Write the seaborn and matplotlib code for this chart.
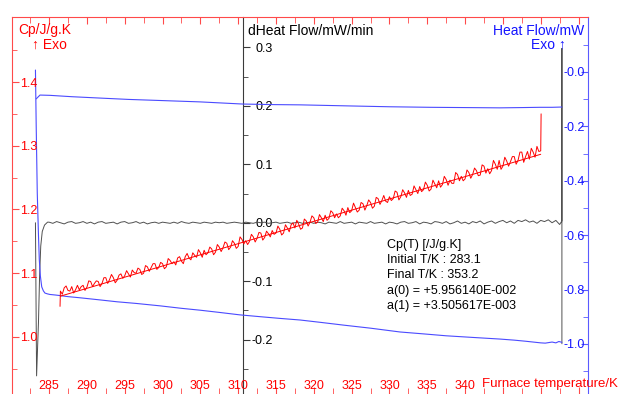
import matplotlib
matplotlib.use("Agg")
import matplotlib.pyplot as plt
import numpy as np
import seaborn as sns
from matplotlib.ticker import FixedLocator, MultipleLocator

W, H = 621, 394

# x axis: furnace temperature / K
x_ticks = [285, 290, 295, 300, 305, 310, 315, 320, 325, 330, 335, 340, 345, 350, 355]
x_tick_labels = ["285", "290", "295", "300", "305", "310", "315", "320",
                 "325", "330", "335", "340", "", "", ""]

# Cp axis (left, red)
cp_ticks = [1.0, 1.1, 1.2, 1.3, 1.4]
cp_tick_labels = ["1.0", "1.1", "1.2", "1.3", "1.4"]
cp_minor = [0.95, 1.05, 1.15, 1.25, 1.35, 1.45]

# dHeat flow axis (middle, black)
dhf_ticks = [-0.2, -0.1, 0.0, 0.1, 0.2, 0.3]
dhf_tick_labels = ["-0.2", "-0.1", "0.0", "0.1", "0.2", "0.3"]
dhf_minor = [-0.25, -0.15, -0.05, 0.05, 0.15, 0.25]

# heat flow axis (right, blue)
hf_ticks = [0.0, -0.2, -0.4, -0.6, -0.8, -1.0]
hf_tick_labels = ["-0.0", "-0.2", "-0.4", "-0.6", "-0.8", "-1.0"]
hf_minor = [0.1, -0.1, -0.3, -0.5, -0.7, -0.9, -1.1]

# measured Cp (red, noisy), every 0.25 K
cp_temp = [286.45] + list(np.arange(286.5, 350.01, 0.25)) + [350.05]
cp_vals = [
    1.048,
    1.072, 1.067, 1.077, 1.080, 1.073, 1.072, 1.079, 1.069, 1.074, 1.081,
    1.074, 1.079, 1.081, 1.073, 1.078, 1.088, 1.087, 1.079, 1.084, 1.088,
    1.087, 1.079, 1.084, 1.093, 1.093, 1.084, 1.090, 1.098, 1.093, 1.085,
    1.089, 1.097, 1.099, 1.092, 1.096, 1.104, 1.099, 1.094, 1.105, 1.101,
    1.100, 1.108, 1.106, 1.098, 1.100, 1.112, 1.110, 1.103, 1.109, 1.115,
    1.115, 1.106, 1.109, 1.117, 1.115, 1.107, 1.110, 1.123, 1.120, 1.115,
    1.118, 1.113, 1.124, 1.126, 1.119, 1.115, 1.126, 1.131, 1.124, 1.121,
    1.132, 1.128, 1.125, 1.137, 1.132, 1.125, 1.136, 1.129, 1.132, 1.141,
    1.138, 1.129, 1.133, 1.145, 1.141, 1.134, 1.140, 1.149, 1.147, 1.137,
    1.141, 1.151, 1.147, 1.139, 1.142, 1.157, 1.153, 1.146, 1.151, 1.145,
    1.150, 1.161, 1.157, 1.149, 1.155, 1.164, 1.163, 1.152, 1.156, 1.166,
    1.162, 1.157, 1.167, 1.161, 1.163, 1.174, 1.169, 1.160, 1.163, 1.176,
    1.171, 1.165, 1.176, 1.179, 1.171, 1.183, 1.177, 1.169, 1.171, 1.185,
    1.182, 1.174, 1.180, 1.190, 1.187, 1.178, 1.180, 1.192, 1.187, 1.181,
    1.191, 1.183, 1.186, 1.198, 1.195, 1.187, 1.193, 1.187, 1.190, 1.202,
    1.198, 1.191, 1.203, 1.195, 1.198, 1.210, 1.203, 1.196, 1.199, 1.211,
    1.209, 1.199, 1.206, 1.215, 1.211, 1.202, 1.205, 1.219, 1.217, 1.208,
    1.214, 1.222, 1.213, 1.211, 1.220, 1.214, 1.217, 1.229, 1.227, 1.215,
    1.220, 1.231, 1.226, 1.219, 1.230, 1.222, 1.224, 1.237, 1.231, 1.225,
    1.236, 1.228, 1.231, 1.243, 1.238, 1.229, 1.232, 1.246, 1.240, 1.234,
    1.245, 1.235, 1.239, 1.252, 1.247, 1.238, 1.246, 1.241, 1.241, 1.258,
    1.255, 1.245, 1.252, 1.245, 1.248, 1.262, 1.258, 1.249, 1.255, 1.265,
    1.261, 1.253, 1.254, 1.270, 1.268, 1.257, 1.264, 1.256, 1.261, 1.277,
    1.271, 1.263, 1.277, 1.263, 1.268, 1.282, 1.276, 1.268, 1.275, 1.283,
    1.283, 1.271, 1.277, 1.290, 1.290, 1.274, 1.283, 1.291, 1.279, 1.296,
    1.290, 1.282, 1.299, 1.291, 1.292,
    1.350,
]

# linear Cp fit (thin red line)
fit_temp = [286.5, 350.0]
fit_cp = [1.064, 1.2866]

# dHeat flow (black)
dhf_temp = ([283.2, 283.35, 283.6, 283.75, 283.9, 284.1, 284.4, 284.8]
            + list(np.arange(285.0, 352.51, 0.5)) + [352.8, 352.8, 352.8])
dhf_vals = [
    0.0, -0.262, -0.17, -0.09, -0.04, -0.015, -0.004, 0.001,
    0.001, -0.001, 0.002, 0.000, -0.002, 0.001, 0.002, -0.001, 0.000, 0.002,
    -0.001, 0.001, -0.002, 0.001, 0.002, -0.001, 0.000, 0.001, -0.002, 0.001,
    0.002, -0.001, 0.000, 0.002, -0.001, 0.001, -0.002, 0.000, 0.001, -0.001,
    0.001, 0.000, -0.001, 0.001, -0.001, 0.002, 0.000, -0.001, 0.001, 0.000,
    -0.001, 0.001, 0.000, -0.001, 0.001, 0.000, 0.001, -0.001, 0.000, 0.001,
    0.000, -0.001, 0.001, 0.000, -0.001, 0.001, 0.000, 0.001, -0.001, 0.000,
    0.001, -0.001, 0.000, 0.001, -0.001, 0.000, 0.001, -0.001, 0.000, 0.001,
    -0.001, 0.001, 0.000, -0.002, 0.001, 0.000, -0.001, 0.002, -0.001, 0.000,
    0.001, -0.002, 0.001, 0.000, -0.001, 0.002, -0.001, 0.000, 0.001, -0.002,
    0.001, 0.000, -0.002, 0.001, 0.002, -0.001, 0.000, 0.002, -0.002, 0.001,
    0.000, -0.002, 0.002, 0.001, -0.001, 0.002, -0.002, 0.000, 0.003, -0.001,
    0.001, -0.002, 0.002, 0.000, 0.003, -0.002, 0.001, 0.003, -0.001, 0.002,
    0.004, 0.000, 0.003, -0.001, 0.004, 0.002, 0.005, 0.001, 0.003, -0.001,
    0.004, 0.002, 0.005, 0.000, 0.004, -0.003,
    0.003, 0.298, -0.207,
]

# heat flow, lower branch (blue)
hf_low_temp = [283.2, 283.3, 283.44, 283.6, 283.71, 283.85, 284.03, 284.25, 284.46,
               284.8, 285.1, 285.8, 286.4, 287.5, 289.0, 291.7, 294.0, 296.5, 299.7,
               302.5, 305.0, 307.5, 310.2, 313.0, 315.5, 318.2, 321.0, 324.0, 327.5,
               331.4, 334.5, 337.5, 341.0, 344.6, 346.5, 348.0, 349.0, 350.0, 350.6,
               351.5, 352.0, 352.4, 352.8]
hf_low = [0.007, -0.20, -0.445, -0.60, -0.691, -0.75, -0.790, -0.805, -0.813,
          -0.816, -0.818, -0.820, -0.822, -0.826, -0.830, -0.838, -0.845, -0.851, -0.860,
          -0.869, -0.876, -0.884, -0.893, -0.900, -0.906, -0.912, -0.921, -0.931, -0.942,
          -0.956, -0.963, -0.970, -0.976, -0.982, -0.986, -0.990, -0.993, -0.996, -0.997,
          -0.993, -0.996, -0.991, -0.994]

# heat flow, upper branch (blue)
hf_up_temp = [283.3, 283.8, 285.1, 288.0, 291.7, 295.5, 299.7, 304.9, 310.6, 314.5,
              318.2, 324.8, 330.0, 335.4, 340.0, 344.6, 347.5, 349.9, 351.5, 352.8]
hf_up = [-0.099, -0.085, -0.086, -0.091, -0.096, -0.101, -0.105, -0.110, -0.118, -0.120,
         -0.121, -0.125, -0.128, -0.130, -0.131, -0.132, -0.131, -0.130, -0.130, -0.129]

fit_text = ["Cp(T) [/J/g.K]", "Initial T/K : 283.1", "Final T/K : 353.2",
            "a(0) = +5.956140E-002", "a(1) = +3.505617E-003"]

RED = "#ff0000"
RED_SPINE = "#ff4a4a"
BLUE = "#1414ff"
BLUE_SPINE = "#5a5aff"
BLUE_LINE = "#4b4bff"
DARK = "#3a3a3a"
CURVE_GRAY = "#505050"


def fpos(x, y):
    return x / W, 1 - y / H


def main() -> None:
    sns.set_style("white")
    plt.rcParams["font.family"] = ["Liberation Sans", "DejaVu Sans"]
    plt.rcParams["axes.unicode_minus"] = False

    fig = plt.figure(figsize=(W / 100, H / 100), dpi=100)
    ax = fig.add_axes([12 / W, 0, 576 / W, 377 / H])
    ax2 = ax.twinx()
    ax3 = ax.twinx()

    sns.lineplot(x=hf_up_temp, y=hf_up, ax=ax3, color=BLUE_LINE, lw=0.8,
                 sort=False, estimator=None)
    sns.lineplot(x=hf_low_temp, y=hf_low, ax=ax3, color=BLUE_LINE, lw=0.8,
                 sort=False, estimator=None)
    sns.lineplot(x=dhf_temp, y=dhf_vals, ax=ax2, color=CURVE_GRAY, lw=0.7,
                 sort=False, estimator=None)
    sns.lineplot(x=cp_temp, y=cp_vals, ax=ax, color=RED, lw=0.7,
                 sort=False, estimator=None, zorder=5)
    sns.lineplot(x=fit_temp, y=fit_cp, ax=ax, color=RED, lw=0.7,
                 sort=False, estimator=None, zorder=5)
    ax.set_zorder(3)
    ax.patch.set_visible(False)

    ax.set_xlim(280.1, 356.25)
    ax.set_ylim(0.9105, 1.502)
    ax2.set_ylim(-0.293, 0.352)
    ax3.set_ylim(-1.184, 0.202)
    for a in (ax, ax2, ax3):
        a.set_xlabel("")
        a.set_ylabel("")
        for s in a.spines.values():
            s.set_visible(False)

    # Cp axis / temperature axis
    ax.spines["left"].set_visible(True)
    ax.spines["left"].set_color(RED_SPINE)
    ax.spines["top"].set_visible(True)
    ax.spines["top"].set_color(RED_SPINE)
    ax.xaxis.set_major_locator(FixedLocator(x_ticks))
    ax.set_xticklabels(x_tick_labels)
    ax.xaxis.set_minor_locator(MultipleLocator(2.5))
    ax.tick_params(axis="x", which="both", top=True, bottom=True, direction="in",
                   colors=RED_SPINE, labelcolor=RED, labelsize=9, pad=-10)
    ax.tick_params(axis="x", which="major", length=5)
    ax.tick_params(axis="x", which="minor", length=4)
    ax.yaxis.set_major_locator(FixedLocator(cp_ticks))
    ax.set_yticklabels(cp_tick_labels)
    ax.yaxis.set_minor_locator(FixedLocator(cp_minor))
    ax.tick_params(axis="y", which="both", left=True, right=False, direction="in",
                   colors=RED_SPINE, labelcolor=RED, labelsize=9, pad=-18)
    ax.tick_params(axis="y", which="major", length=5)
    ax.tick_params(axis="y", which="minor", length=3.5)

    # dHeat flow axis in the middle
    ax2.spines["left"].set_visible(True)
    ax2.spines["left"].set_position(("axes", 231 / 576))
    ax2.spines["left"].set_color(DARK)
    ax2.yaxis.tick_left()
    ax2.yaxis.set_major_locator(FixedLocator(dhf_ticks))
    ax2.set_yticklabels(dhf_tick_labels)
    ax2.yaxis.set_minor_locator(FixedLocator(dhf_minor))
    ax2.tick_params(axis="y", which="both", direction="in", colors=DARK,
                    labelcolor="black", labelsize=9, pad=-21.5)
    ax2.tick_params(axis="y", which="major", length=5)
    ax2.tick_params(axis="y", which="minor", length=3.5)
    ax2.tick_params(axis="x", which="both", bottom=False, top=False,
                    labelbottom=False)

    # heat flow axis on the right
    ax3.spines["right"].set_visible(True)
    ax3.spines["right"].set_color(BLUE_SPINE)
    ax3.yaxis.tick_right()
    ax3.yaxis.set_major_locator(FixedLocator(hf_ticks))
    ax3.set_yticklabels(hf_tick_labels)
    ax3.yaxis.set_minor_locator(FixedLocator(hf_minor))
    ax3.tick_params(axis="y", which="both", direction="in", colors=BLUE_SPINE,
                    labelcolor=BLUE, labelsize=9, pad=-17.3)
    ax3.tick_params(axis="y", which="major", length=5)
    ax3.tick_params(axis="y", which="minor", length=3.5)
    ax3.tick_params(axis="x", which="both", bottom=False, top=False,
                    labelbottom=False)

    # axis titles
    fig.text(*fpos(18, 30), "Cp/J/g.K", color=RED, fontsize=10, va="center")
    fig.text(*fpos(32, 45), "\u2191 Exo", color=RED, fontsize=10, va="center")
    fig.text(*fpos(248, 31), "dHeat Flow/mW/min", color="black", fontsize=10,
             va="center")
    fig.text(*fpos(584, 31), "Heat Flow/mW", color=BLUE, fontsize=10,
             va="center", ha="right")
    fig.text(*fpos(566, 45), "Exo \u2191", color=BLUE, fontsize=10,
             va="center", ha="right")
    fig.text(*fpos(482, 384), "Furnace temperature/K", color=RED, fontsize=9.5,
             va="center")
    fig.text(*fpos(387, 275.5), "\n".join(fit_text), color="black", fontsize=9,
             va="center", linespacing=1.38)

    fig.savefig("out.png", dpi=100)
    plt.close(fig)


if __name__ == "__main__":
    main()
